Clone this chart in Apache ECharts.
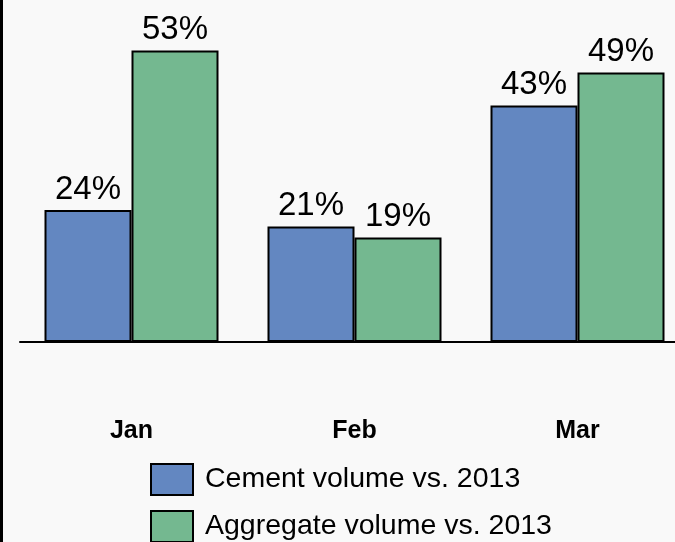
<!DOCTYPE html>
<html>
<head>
<meta charset="utf-8">
<script src="https://cdn.jsdelivr.net/npm/echarts@6/dist/echarts.min.js"></script>
<style>
html, body { margin: 0; padding: 0; background: #f9f9f9; }
#main { width: 675px; height: 542px; }
</style>
</head>
<body>
<div id="main"></div>
<script>
// chart data
var months = ['Jan', 'Feb', 'Mar'];
var cementVals = [24, 21, 43];
var aggregateVals = [53, 19, 49];
var seriesNames = ['Cement volume vs. 2013', 'Aggregate volume vs. 2013'];

var myChart = echarts.init(document.getElementById('main'));

var barLabel = {
    show: true,
    position: 'top',
    distance: 4,
    formatter: '{c}%',
    color: '#000',
    fontSize: 33,
    fontFamily: 'Liberation Sans'
};

// one legend per row so they stack like the original
function legendRow(name, top) {
    return {
        orient: 'horizontal',
        left: 150,
        top: top,
        padding: 0,
        itemWidth: 42,
        itemHeight: 31,
        icon: 'rect',
        selectedMode: false,
        itemStyle: { borderColor: '#000', borderWidth: 2 },
        textStyle: {
            color: '#000',
            fontSize: 28.5,
            fontFamily: 'Liberation Sans',
            padding: [8, 0, 0, 7]
        },
        data: [name]
    };
}

var option = {
    backgroundColor: '#f9f9f9',
    animation: false,
    legend: [
        legendRow(seriesNames[0], 463),
        legendRow(seriesNames[1], 510)
    ],
    grid: {
        left: 20,
        top: 12,
        width: 669,
        height: 330,
        outerBoundsMode: 'none',
        containLabel: false
    },
    xAxis: {
        type: 'category',
        data: months,
        axisTick: { show: false },
        axisLine: { lineStyle: { color: '#000', width: 2 } },
        axisLabel: {
            margin: 77,
            color: '#000',
            fontSize: 25,
            fontWeight: 'bold',
            fontFamily: 'Liberation Sans'
        }
    },
    yAxis: {
        type: 'value',
        min: 0,
        max: 60,
        show: false,
        splitLine: { show: false }
    },
    graphic: [{
        type: 'line',
        shape: { x1: 1.5, y1: 0, x2: 1.5, y2: 542 },
        style: { stroke: '#000', lineWidth: 3 }
    }],
    series: [
        {
            name: seriesNames[0],
            type: 'bar',
            data: cementVals,
            barWidth: 87,
            barGap: '0%',
            itemStyle: { color: '#6387c1', borderColor: '#000', borderWidth: 2 },
            label: barLabel
        },
        {
            name: seriesNames[1],
            type: 'bar',
            data: aggregateVals,
            barWidth: 87,
            barGap: '0%',
            itemStyle: { color: '#74b890', borderColor: '#000', borderWidth: 2 },
            label: barLabel
        }
    ]
};

myChart.setOption(option);
window.onresize = myChart.resize;
</script>
</body>
</html>
